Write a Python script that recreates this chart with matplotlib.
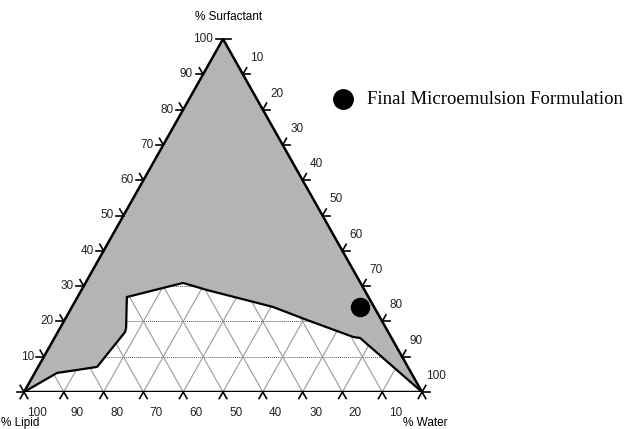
import numpy as np
import matplotlib
matplotlib.use("Agg")
import matplotlib.pyplot as plt

# Phase boundary of the microemulsion region (% surfactant, % water; lipid = rest)
boundary_surf = [0, 5.4, 7.1, 17.0, 18.1, 26.9, 30.9, 28.9, 24.1, 20.4, 15.6, 15.3, 0]
boundary_water = [0, 5.6, 14.8, 16.9, 16.6, 12.4, 24.5, 31.5, 50.5, 60.9, 74.9, 76.8, 100]

# Final formulation point
final_surf = [24.1]
final_water = [72.4]

tick_values = [0, 10, 20, 30, 40, 50, 60, 70, 80, 90, 100]
label_values = [10, 20, 30, 40, 50, 60, 70, 80, 90, 100]

FIG_W, FIG_H = 628, 429
AX_RECT = [24 / FIG_W, (FIG_H - 392) / FIG_H, 398 / FIG_W, 353 / FIG_H]
SX = FIG_W * AX_RECT[2] / 100.0  # pixels per data unit in x
SY = FIG_H * AX_RECT[3] / 100.0  # pixels per data unit in y
SANS = "Liberation Sans"


def tern_xy(surf, water):
    surf = np.asarray(surf, dtype=float)
    water = np.asarray(water, dtype=float)
    return water + surf / 2.0, surf


def px(dx, dy):
    """Pixel offset (y down) to data offset."""
    return dx / SX, -dy / SY


fig = plt.figure(figsize=(FIG_W / 100, FIG_H / 100), dpi=100)
ax = fig.add_axes(AX_RECT)
ax.set_xlim(0, 100)
ax.set_ylim(0, 100)
ax.axis("off")

# grid
for v in tick_values[1:-1]:
    x0, y0 = tern_xy(v, 0)
    x1, y1 = tern_xy(v, 100 - v)
    ax.plot([x0, x1], [y0, y1], color="#555555", lw=0.7, ls=(0, (1, 1)), zorder=1)
    x0, y0 = tern_xy(0, v)
    x1, y1 = tern_xy(100 - v, v)
    ax.plot([x0, x1], [y0, y1], color="#9a9a9a", lw=0.8, zorder=1)
    x0, y0 = tern_xy(0, 100 - v)
    x1, y1 = tern_xy(100 - v, 0)
    ax.plot([x0, x1], [y0, y1], color="#9a9a9a", lw=0.8, zorder=1)

# grey region: triangle minus the area below the boundary
bx, by = tern_xy(boundary_surf, boundary_water)
tx, ty = tern_xy(100, 0)
poly_x = np.concatenate([[bx[0], tx], bx[::-1]])
poly_y = np.concatenate([[by[0], ty], by[::-1]])
ax.fill(poly_x, poly_y, color="#b4b4b4", lw=0, zorder=2)
ax.plot(bx, by, color="black", lw=1.6, zorder=3)

# triangle outline
cx, cy = tern_xy([0, 100, 0, 0], [0, 0, 100, 0])
ax.plot(cx, cy, color="black", lw=1.8, zorder=4, solid_joinstyle="miter")

L = 7.5
c, s60 = 0.5, np.sqrt(3) / 2


def tick(x, y, dirs):
    for ddx, ddy in dirs:
        ox, oy = px(ddx * L, ddy * L)
        ax.plot([x, x + ox], [y, y + oy], color="black", lw=1.2,
                clip_on=False, zorder=4)


for v in tick_values:
    # bottom axis: % Lipid (100 at left)
    x, y = tern_xy(0, 100 - v)
    tick(x, y, [(-c, s60), (c, s60)])
    # left axis: % Surfactant
    x, y = tern_xy(v, 0)
    tick(x, y, [(-1, 0)] if v == 100 else [(-1, 0), (-c, -s60)])
    # right axis: % Water
    x, y = tern_xy(100 - v, v)
    tick(x, y, [(1, 0)] if v == 0 else [(1, 0), (c, -s60)])

for v in label_values:
    x, y = tern_xy(0, 100 - v)
    ox, oy = px(13, 21)
    ax.text(x + ox, y + oy, str(v), ha="center", va="center", fontsize=8.5,
            family=SANS, color="#222222")
    x, y = tern_xy(v, 0)
    ox, oy = px(-10, 0)
    ax.text(x + ox, y + oy, str(v), ha="right", va="center", fontsize=8.5,
            family=SANS, color="#222222")
    x, y = tern_xy(100 - v, v)
    ox, oy = px(14, -16)
    ax.text(x + ox, y + oy, str(v), ha="center", va="center", fontsize=8.5,
            family=SANS, color="#222222")

# axis titles
ax.text(51.3, 106.2, "% Surfactant", ha="center", va="center", fontsize=8.5, family=SANS)
ax.text(-5.8, -8.8, "% Lipid", ha="left", va="center", fontsize=8.5, family=SANS)
ax.text(100.8, -8.8, "% Water", ha="center", va="center", fontsize=8.5, family=SANS)

# formulation point
fx, fy = tern_xy(final_surf, final_water)
ax.plot(fx, fy, "o", color="black", ms=13, zorder=5)

# legend
ax.plot([80.2], [83.0], "o", color="black", ms=14, clip_on=False)
ax.text(86.2, 83.0, "Final Microemulsion Formulation", ha="left", va="center",
        fontsize=13.5, family="Liberation Serif")

fig.savefig("out.png", dpi=100)
